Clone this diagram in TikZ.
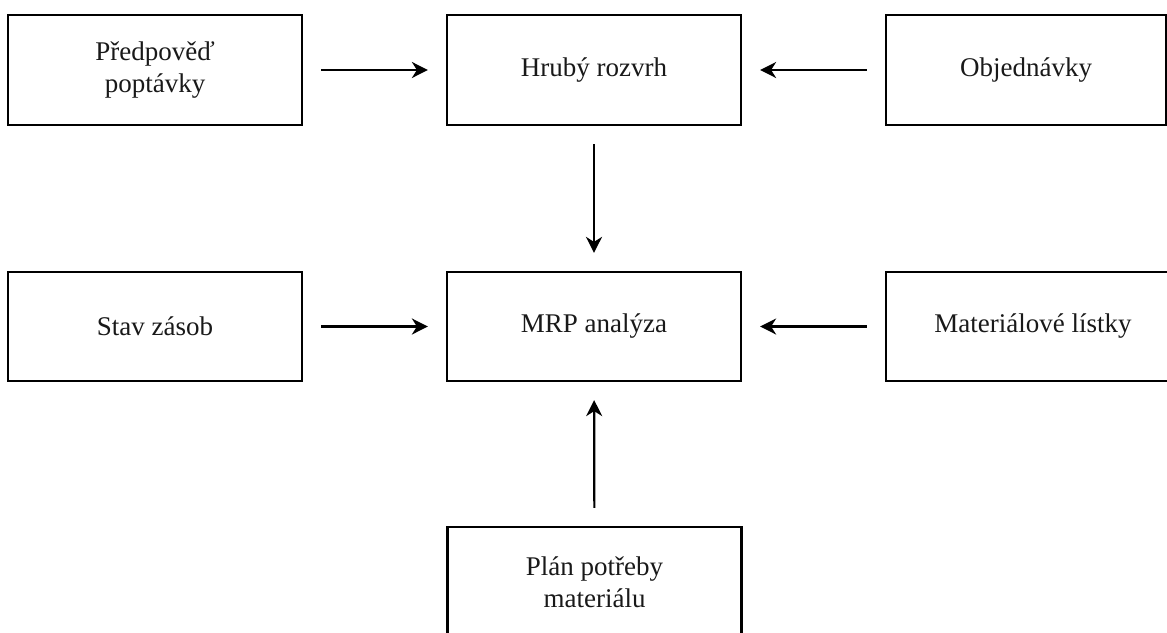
\documentclass[tikz,border=0pt]{standalone}
\usepackage{fontspec}
\setmainfont{Liberation Serif}
\usetikzlibrary{arrows.meta}
\begin{document}
\begin{tikzpicture}[x=1pt,y=-1pt,
  block/.style={draw=black,line width=2.2pt,rectangle,minimum width=294pt,minimum height=110pt,
    align=center,inner sep=0pt,font=\fontsize{27}{32}\selectfont,text=black!90},
  flow/.style={line width=2.2pt,-{Stealth[length=16pt,width=16pt,inset=5pt]},
    shorten <=18pt,shorten >=18pt}]
  \useasboundingbox (0,0) rectangle (1167,632);
  \begin{scope}
    \clip (0,0) rectangle (1167,632);
    % top row
    \node[block] (pred) at (155,70) {Předpověď\\poptávky};
    \node[block] (hrub) at (594,70) {Hrubý rozvrh};
    \node[block,minimum width=280pt] (obj) at (1026,70) {Objednávky};
    % middle row
    \node[block,minimum height=109pt] (stav) at (155,326.5) {Stav zásob};
    \node[block,minimum height=109pt] (mrp) at (594,326.5) {MRP analýza};
    \node[block,minimum height=109pt] (mat) at (1033,326.5) {Materiálové lístky};
    % bottom
    \node[block] (plan) at (594.5,582) {Plán potřeby\\materiálu};
  \end{scope}
  % connectors
  \draw[flow] (pred) -- (hrub);
  \draw[flow] (obj) -- (hrub);
  \draw[flow] (hrub) -- (mrp);
  \draw[flow] (stav) -- (mrp);
  \draw[flow] (mat) -- (mrp);
  \draw[flow] (plan) -- (mrp);
\end{tikzpicture}
\end{document}
